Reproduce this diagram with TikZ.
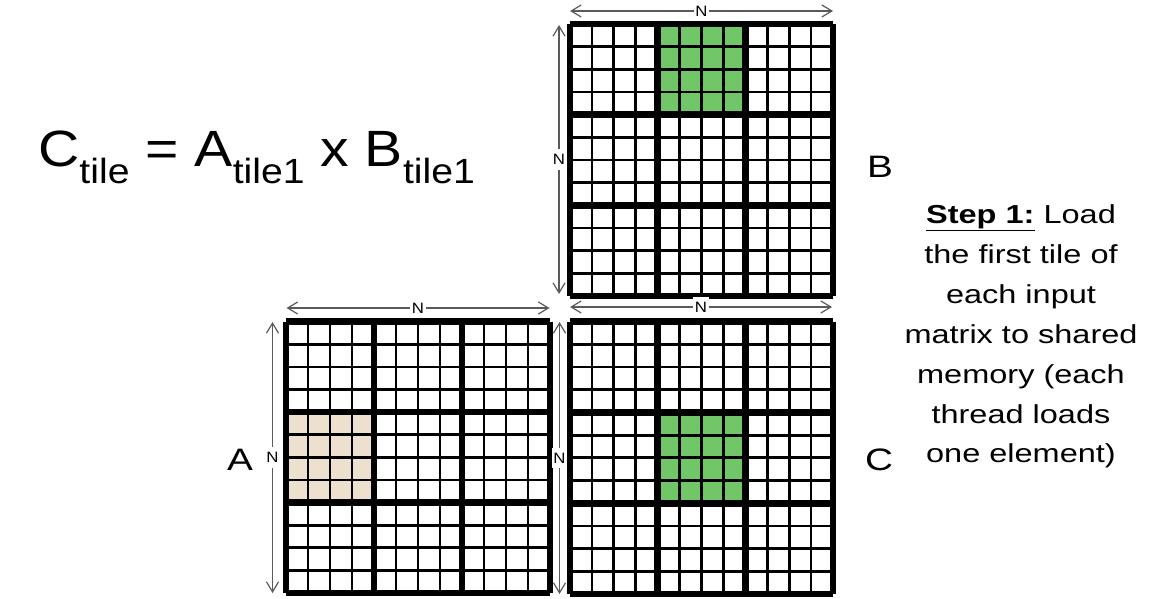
\documentclass[tikz,border=0pt]{standalone}
\usepackage{fontspec}
\setmainfont{Liberation Sans}
\newfontfamily\wideF[FakeStretch=1.12]{Liberation Sans}
\newfontfamily\wideS[FakeStretch=1.25]{Liberation Sans}
\usetikzlibrary{arrows.meta}
\definecolor{tilegreen}{RGB}{113,198,103}
\definecolor{tilebeige}{RGB}{237,224,207}
\definecolor{arrowgray}{RGB}{90,90,90}
\newcommand{\gridmatrix}[4]{%
  \foreach \k in {1,...,11}{
    \draw[thinline] ({#1+(#3-#1)*\k/12},#2) -- ({#1+(#3-#1)*\k/12},#4);
    \draw[thinline] (#1,{#2+(#4-#2)*\k/12}) -- (#3,{#2+(#4-#2)*\k/12});
  }
  \foreach \k in {0,...,3}{
    \draw[thickline] ({#1+(#3-#1)*\k/3},#2) -- ({#1+(#3-#1)*\k/3},#4);
    \draw[thickline] (#1,{#2+(#4-#2)*\k/3}) -- (#3,{#2+(#4-#2)*\k/3});
  }
}
\newcommand{\filltile}[7]{% x0,y0,x1,y1,col,row,color
  \fill[#7] ({#1+(#3-#1)*#5/3},{#2+(#4-#2)*#6/3}) rectangle ({#1+(#3-#1)*(#5+1)/3},{#2+(#4-#2)*(#6+1)/3});
}
\begin{document}
\begin{tikzpicture}[x=1pt,y=-1pt,
  thinline/.style={line width=2.8pt,line cap=butt,black},
  thickline/.style={line width=6.7pt,line cap=butt,black},
  dimarrow/.style={arrowgray,line width=1.2pt,{Straight Barb[length=10pt,width=12pt]}-{Straight Barb[length=10pt,width=12pt]}},
  nlabel/.style={fill=white,text=black,font=\wideF\fontsize{15}{15}\selectfont,inner xsep=1.5pt,inner ysep=5pt},
  biglabel/.style={font=\wideS\fontsize{31}{31}\selectfont,inner sep=0pt,anchor=base},
  steptext/.style={font=\wideS\fontsize{26}{26}\selectfont,inner sep=0pt,anchor=base}]
\useasboundingbox (0,0) rectangle (1154,599);
\fill[white] (0,0) rectangle (1154,599);
% fills
\filltile{570}{24}{833}{296}{1}{0}{tilegreen}
\filltile{570}{321.7}{833}{594}{1}{1}{tilegreen}
\filltile{286}{321.7}{550}{593}{0}{1}{tilebeige}
% grids
\gridmatrix{570}{24}{833}{296}
\gridmatrix{570}{321.7}{833}{594}
\gridmatrix{286}{321.7}{550}{593}
% dimension arrows
\coordinate (BtopL) at (570,11);
\coordinate (BtopR) at (833,11);
\coordinate (BleftT) at (559,25);
\coordinate (BleftB) at (559,294);
\coordinate (AtopL) at (286.5,308);
\coordinate (AtopR) at (549.5,308);
\coordinate (AleftT) at (272.5,322);
\coordinate (AleftB) at (272.5,593);
\coordinate (CtopL) at (570,307);
\coordinate (CtopR) at (832,307);
\coordinate (CleftT) at (559.5,322);
\coordinate (CleftB) at (559.5,594);
\draw[dimarrow] (BtopL) -- node[nlabel] (nB1) {N} (BtopR);
\draw[dimarrow] (BleftT) -- node[nlabel] (nB2) {N} (BleftB);
\draw[dimarrow] (AtopL) -- node[nlabel] (nA1) {N} (AtopR);
\draw[dimarrow] (AleftT) -- node[nlabel] (nA2) {N} (AleftB);
\draw[dimarrow] (CtopL) -- node[nlabel] (nC1) {N} (CtopR);
\draw[dimarrow] (CleftT) -- node[nlabel] (nC2) {N} (CleftB);
% formula
\node[anchor=base west,inner sep=0pt,font=\wideF\fontsize{51}{51}\selectfont] (formula) at (38,166.7)
  {C\raisebox{-16.8pt}{\fontsize{35}{35}\selectfont tile} = A\raisebox{-16.8pt}{\fontsize{35}{35}\selectfont tile1} x B\raisebox{-16.8pt}{\fontsize{35}{35}\selectfont tile1}};
% matrix labels
\node[biglabel] (labB) at (880,177.5) {B};
\node[biglabel] (labA) at (240,470) {A};
\node[biglabel] (labC) at (879,470) {C};
% step text
\node[steptext] (s1) at (1021,223) {\underline{\textbf{Step 1:}} Load};
\node[steptext] (s2) at (1021,263) {the first tile of};
\node[steptext] (s3) at (1021,303) {each input};
\node[steptext] (s4) at (1021,343) {matrix to shared};
\node[steptext] (s5) at (1021,383) {memory (each};
\node[steptext] (s6) at (1021,423) {thread loads};
\node[steptext] (s7) at (1021,462) {one element)};
\end{tikzpicture}
\end{document}
